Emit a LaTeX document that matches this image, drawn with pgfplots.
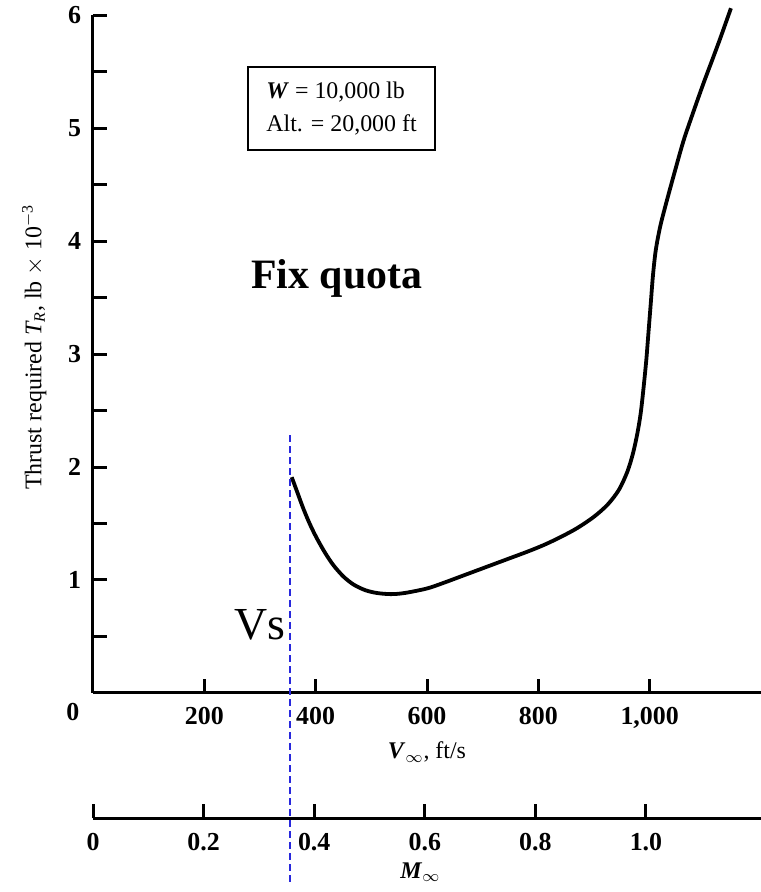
\documentclass[border=0pt]{standalone}
\usepackage{fontspec}
\setmainfont{Liberation Serif}
\usepackage{pgfplots}
\pgfplotsset{compat=1.18}

\newcommand{\tickfont}{\fontsize{13}{15}\selectfont\bfseries}
\newcommand{\labfont}{\fontsize{12}{14}\selectfont}
\definecolor{vsblue}{RGB}{40,40,220}

\begin{document}
\begin{tikzpicture}
    \pgfplotsset{
        bare axis/.style={
            scale only axis,
            width=334bp,
            clip=false,
            axis line style={-, line width=1.5bp},
            tick style={line width=1.5bp, black},
            major tick length=7bp,
            tick align=inside,
            tick label style={font=\tickfont},
            label style={font=\labfont},
        }
    }

    % Thrust required vs velocity
    \begin{axis}[
        bare axis,
        name=main,
        height=339bp,
        xmin=0, xmax=1200,
        ymin=0, ymax=6,
        axis x line*=bottom,
        axis y line*=left,
        xtick={200,400,600,800,1000},
        xticklabels={200,400,600,800,{1,000}},
        ytick={0.5,1,1.5,2,2.5,3,3.5,4,4.5,5,5.5,6},
        yticklabels={,1,,2,,3,,4,,5,,6},
        xticklabel shift=3.5bp,
        yticklabel shift=2.5bp,
        xlabel={\textbf{\textit{V}}$_{\infty}$, ft/s},
        xlabel style={at={(axis description cs:0.5,-0.087)}, anchor=center},
        ylabel={Thrust required \textit{T\textsubscript{R}}, lb $\times$ 10\textsuperscript{$-$3}},
        ylabel style={at={(axis description cs:-0.088,0.51)}, anchor=center},
    ]

    \addplot[black, line width=1.9bp, smooth] coordinates {
        (357,1.91) (366,1.79) (378,1.63) (390,1.49) (402,1.37) (417,1.24)
        (432,1.13) (450,1.03) (468,0.96) (489,0.91) (510,0.885) (535,0.875)
        (560,0.885) (600,0.925) (630,0.975) (660,1.03) (690,1.085) (720,1.14)
        (750,1.195) (780,1.25) (810,1.31) (840,1.38) (870,1.46) (900,1.56)
        (925,1.67) (945,1.80) (960,1.96) (970,2.12) (978,2.30) (984,2.48)
        (989,2.70) (994,2.95) (998,3.20) (1002,3.45) (1006,3.70) (1011,3.92)
        (1019,4.13) (1031,4.36) (1046,4.63) (1061,4.89) (1079,5.15)
        (1097,5.40) (1113,5.61) (1128,5.81) (1146,6.06)
    };

    % stall speed line
    \addplot[vsblue, line width=1bp, dash pattern=on 3.5bp off 2bp] coordinates {
        (354,2.28) (354,-1.67)
    };

    \node[font=\tickfont] at (axis cs:-36,-0.17) {0};
    \node[draw=black, line width=1.2bp, align=left, minimum width=93.5bp,
          minimum height=41.5bp, font=\fontsize{12}{16.5}\selectfont]
        at (axis cs:446.5,5.17) {\textbf{\textit{W}} = 10,000 lb\\Alt. = 20,000 ft};
    \node[anchor=base, font=\fontsize{21}{25}\selectfont\bfseries]
        at (axis cs:438,3.58) {Fix quota};
    \node[anchor=base east, inner sep=0pt, font=\fontsize{23}{27}\selectfont]
        at (axis cs:347,0.47) {Vs};
    \end{axis}

    % Mach number scale
    \begin{axis}[
        bare axis,
        at={(0bp,-62.5bp)},
        anchor=south west,
        height=20bp,
        xmin=0, xmax=1.208,
        ymin=0, ymax=1,
        axis x line*=bottom,
        axis y line=none,
        xtick={0,0.2,0.4,0.6,0.8,1.0},
        xticklabels={0,0.2,0.4,0.6,0.8,1.0},
        xticklabel shift=4bp,
        xlabel={\textbf{\textit{M}}$_{\infty}$},
        xlabel style={at={(axis description cs:0.49,0)}, yshift=-27bp, anchor=center},
    ]
    \end{axis}

    \pgfresetboundingbox
    \path (-46.5bp,-99.5bp) rectangle (334bp,346.5bp);
\end{tikzpicture}
\end{document}
